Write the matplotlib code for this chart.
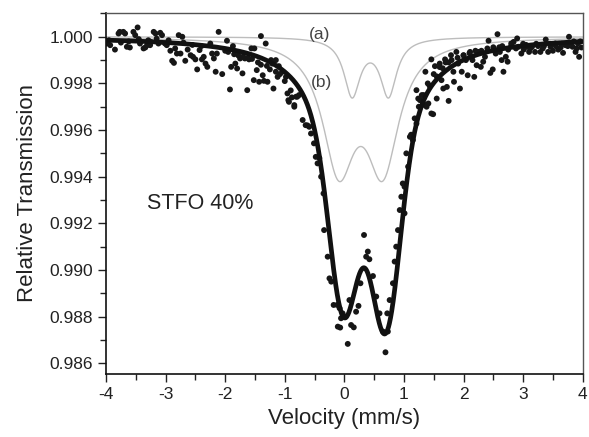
import matplotlib
matplotlib.use("Agg")
import matplotlib.pyplot as plt
import numpy as np
from matplotlib.ticker import MultipleLocator, FormatStrFormatter

plt.rcParams["font.family"] = ["Liberation Sans", "DejaVu Sans"]
plt.rcParams["axes.unicode_minus"] = False

# ---------------------------------------------------------------------------
# Data (velocity in mm/s, relative transmission)
# ---------------------------------------------------------------------------

vel_left = [-3.99, -3.93, -3.85, -3.79, -3.77, -3.71, -3.68, -3.65, -3.60, -3.54,
            -3.51, -3.47, -3.43, -3.37, -3.34, -3.31, -3.29, -3.26, -3.20, -3.17,
            -3.12, -3.09, -3.06, -3.01, -2.98, -2.92, -2.89, -2.86, -2.84, -2.81,
            -2.78, -2.75, -2.72, -2.67, -2.63, -2.58, -2.54, -2.50, -2.47, -2.43,
            -2.39, -2.36, -2.33, -2.30, -2.25, -2.22, -2.19, -2.16, -2.14, -2.11,
            -2.05, -1.97, -1.92, -1.90, -1.87, -1.83, -1.80, -1.75, -1.71, -1.67,
            -1.63, -1.60, -1.56, -1.52, -1.47, -1.43, -1.40, -1.37, -1.35, -1.32,
            -1.29, -1.23, -1.21, -1.19, -1.15, -1.12, -1.10,
            -3.95, -3.75, -3.62, -3.45, -3.25, -3.15, -2.95, -2.70, -2.55, -2.40,
            -1.95, -1.85, -1.70, -1.55, -1.45, -1.30, -1.25, -1.51,
            -2.00, -1.78, -1.62, -1.40, -1.15, -1.08]
trans_left = [0.99971, 0.99964, 0.99945, 1.00014, 1.00021, 1.00021, 1.00014, 0.99957, 0.99954, 1.00021,
              1.00007, 1.00040, 0.99971, 0.99950, 0.99954, 0.99964, 0.99985, 0.99964, 1.00021, 1.00014,
              0.99971, 1.00017, 1.00007, 0.99971, 0.99964, 0.99940, 0.99897, 0.99888, 0.99950, 0.99928,
              1.00007, 0.99928, 1.00000, 0.99897, 0.99945, 0.99921, 0.99914, 0.99903, 0.99860, 0.99943,
              0.99903, 0.99914, 0.99885, 0.99871, 0.99971, 0.99928, 0.99907, 0.99850, 0.99928, 1.00021,
              0.99840, 0.99983, 0.99774, 0.99871, 0.99960, 0.99885, 0.99864, 0.99907, 0.99843, 0.99907,
              0.99771, 0.99903, 0.99950, 0.99814, 0.99857, 0.99807, 1.00003, 0.99835, 0.99811, 0.99971,
              0.99807, 0.99900, 0.99885, 0.99778, 0.99900, 0.99828, 0.99874,
              0.99985, 0.99975, 0.99980, 0.99990, 0.99978, 0.99992, 0.99985, 0.99975, 0.99965, 0.99960,
              0.99935, 0.99925, 0.99915, 0.99905, 0.99890, 0.99875, 0.99860, 0.99950,
              0.99940, 0.99920, 0.99910, 0.99880, 0.99850, 0.99840]

vel_centre = [-1.04, -0.98, -0.955, -0.94, -0.93, -0.84, -0.84, -0.81, -0.79, -0.76,
              -0.70, -0.65, -0.59, -0.56, -0.51, -0.48, -0.45, -0.39, -0.35, -0.34,
              -0.28, -0.25, -0.22, -0.18, -0.12, -0.08, -0.11, -0.07, -0.056, -0.03,
              0.012, 0.057, 0.085, 0.113, 0.158, 0.197, 0.237, 0.27, 0.33, 0.366,
              0.394, 0.42, 0.48, 0.535, 0.59, 0.647, 0.69, 0.73, 0.72, 0.76,
              0.815, 0.844, 0.87, 0.90, 0.93, 0.956, 0.98, 1.01, 1.04, 1.07,
              1.10, 1.15, 1.21, 1.24, 1.27, 1.01, -1.00,
              -0.90, -0.88, -0.62, -0.42, 1.12, 1.18]
trans_centre = [0.99850, 0.99828, 0.99757, 0.99728, 0.99721, 0.99707, 0.99700, 0.99743, 0.99743, 0.99750,
                0.99643, 0.99621, 0.99614, 0.99585, 0.99543, 0.99485, 0.99457, 0.99400, 0.99328, 0.99171,
                0.99057, 0.98964, 0.98950, 0.98850, 0.98850, 0.98836, 0.98757, 0.98753, 0.98793, 0.98814,
                0.98800, 0.98683, 0.98871, 0.98764, 0.98754, 0.98821, 0.98846, 0.98943, 0.99150, 0.99057,
                0.99079, 0.99046, 0.98974, 0.98886, 0.98814, 0.98736, 0.98647, 0.98736, 0.98814, 0.98871,
                0.98943, 0.99036, 0.99100, 0.99171, 0.99257, 0.99314, 0.99371, 0.99357, 0.99500, 0.99443,
                0.99571, 0.99557, 0.99628, 0.99735, 0.99728, 0.99243, 0.99810,
                0.99770, 0.99740, 0.99620, 0.99480, 0.99580, 0.99650]

vel_right = [1.21, 1.32, 1.35, 1.36, 1.38, 1.41, 1.46, 1.46, 1.49, 1.52,
             1.55, 1.60, 1.63, 1.66, 1.69, 1.72, 1.75, 1.79, 1.83, 1.84,
             1.88, 1.91, 1.94, 1.97, 2.00, 2.04, 2.07, 2.11, 2.15, 2.18,
             2.22, 2.25, 2.29, 2.33, 2.36, 2.42, 2.45, 2.49, 2.54, 2.57,
             2.61, 2.64, 2.67, 2.71, 2.74, 2.80, 2.84, 2.90, 2.92, 2.97,
             3.01, 3.06, 3.10, 3.15, 3.20, 3.25, 3.29, 3.33, 3.38, 3.42,
             3.46, 3.50, 3.54, 3.59, 3.63, 3.67, 3.71, 3.77, 3.80, 3.83,
             3.88, 3.92, 3.94, 3.98,
             1.30, 1.40, 1.50, 1.60, 1.70, 1.80, 2.00, 2.20, 2.40, 2.60, 2.80, 3.00,
             1.25, 1.33, 1.43, 1.55, 1.65, 1.75, 1.90, 2.10, 2.30, 2.50, 2.65, 2.75,
             2.88, 3.05, 3.12, 3.22, 3.35, 3.45, 3.55, 3.65, 3.75, 3.85, 3.90, 3.96]
trans_right = [0.99771, 0.99714, 0.99707, 0.99850, 0.99700, 0.99714, 0.99903, 0.99671, 0.99668, 0.99874,
               0.99735, 0.99885, 0.99814, 0.99778, 0.99903, 0.99785, 0.99725, 0.99921, 0.99850, 0.99807,
               0.99935, 0.99885, 0.99778, 0.99850, 0.99921, 0.99900, 0.99835, 0.99935, 0.99900, 0.99828,
               0.99878, 0.99935, 0.99871, 0.99893, 0.99914, 0.99983, 0.99845, 0.99860, 0.99928, 1.00011,
               0.99935, 0.99900, 0.99850, 0.99914, 0.99893, 0.99971, 0.99978, 0.99993, 0.99957, 0.99928,
               0.99945, 0.99957, 0.99935, 0.99957, 0.99935, 0.99960, 0.99935, 0.99950, 0.99988, 0.99935,
               0.99957, 0.99940, 0.99971, 0.99945, 0.99954, 0.99931, 0.99964, 1.00000, 0.99971, 0.99957,
               0.99935, 0.99971, 0.99914, 0.99954,
               0.99750, 0.99800, 0.99840, 0.99870, 0.99890, 0.99900, 0.99920, 0.99940, 0.99950, 0.99955, 0.99960, 0.99970,
               0.99700, 0.99750, 0.99790, 0.99830, 0.99865, 0.99890, 0.99910, 0.99930, 0.99940, 0.99955, 0.99960, 0.99945,
               0.99950, 0.99965, 0.99950, 0.99970, 0.99960, 0.99970, 0.99960, 0.99970, 0.99960, 0.99980, 0.99950, 0.99980]

# Fitted envelope: two lines, each a Lorentzian wing plus a Gaussian core
fit_centres = [-0.02, 0.70]
fit_lor_depths = [0.0045, 0.0045]
fit_lor_hwhm = 0.55
fit_gau_depths = [0.0058, 0.0065]
fit_gau_sigma = 0.23

# Sub-spectra (a) and (b): Lorentzian doublets
sub_a_centres = [0.13, 0.74]
sub_a_depths = [0.00246, 0.00246]
sub_a_hwhm = 0.166

sub_b_centres = [-0.095, 0.645]
sub_b_depths = [0.00531, 0.00531]
sub_b_hwhm = 0.33


def lorentz_doublet(v, centres, depths, hwhm):
    out = np.zeros_like(v)
    for c, d in zip(centres, depths):
        out += d / (1.0 + ((v - c) / hwhm) ** 2)
    return out


def gauss_doublet(v, centres, depths, sigma):
    out = np.zeros_like(v)
    for c, d in zip(centres, depths):
        out += d * np.exp(-(v - c) ** 2 / (2 * sigma ** 2))
    return out


v_fine = np.linspace(-4, 4, 1601)
curve_a = 1 - lorentz_doublet(v_fine, sub_a_centres, sub_a_depths, sub_a_hwhm)
curve_b = 1 - lorentz_doublet(v_fine, sub_b_centres, sub_b_depths, sub_b_hwhm)
curve_fit = (1 - lorentz_doublet(v_fine, fit_centres, fit_lor_depths, fit_lor_hwhm)
             - gauss_doublet(v_fine, fit_centres, fit_gau_depths, fit_gau_sigma))

fig = plt.figure(figsize=(5.89, 4.37), dpi=100)
ax = fig.add_axes([0.18, 0.1442, 0.8093, 0.8261])

ax.plot(v_fine, curve_a, color="#bdbdbd", lw=1.0, zorder=1)
ax.plot(v_fine, curve_b, color="#bdbdbd", lw=1.0, zorder=1)

velocity = np.array(vel_left + vel_centre + vel_right)
transmission = np.array(trans_left + trans_centre + trans_right)
ax.scatter(velocity, transmission, s=18, color="#161616", edgecolors="none", zorder=2)

ax.plot(v_fine, curve_fit, color="#111111", lw=3.4, zorder=3, solid_capstyle="round")

ax.text(-0.42, 1.00010, "(a)", fontsize=12.5, color="#444444", ha="center", va="center")
ax.text(-0.39, 0.99804, "(b)", fontsize=12.5, color="#444444", ha="center", va="center")
ax.text(-2.42, 0.99287, "STFO 40%", fontsize=15.5, color="#222222", ha="center", va="center")

ax.set_xlim(-4, 4)
ax.set_ylim(0.98554, 1.00102)
ax.xaxis.set_major_locator(MultipleLocator(1))
ax.xaxis.set_minor_locator(MultipleLocator(0.5))
ax.yaxis.set_major_locator(MultipleLocator(0.002))
ax.yaxis.set_minor_locator(MultipleLocator(0.001))
ax.yaxis.set_major_formatter(FormatStrFormatter("%.3f"))
ax.tick_params(which="both", direction="out", top=False, right=False,
               labelsize=12.5, colors="#222222", width=1.0)
ax.tick_params(which="major", length=6)
ax.tick_params(which="minor", length=4)

for side in ["left", "bottom"]:
    ax.spines[side].set_linewidth(1.2)
    ax.spines[side].set_color("#111111")
for side in ["top", "right"]:
    ax.spines[side].set_linewidth(1.0)
    ax.spines[side].set_color("#555555")

ax.set_xlabel("Velocity (mm/s)", fontsize=16, color="#222222", labelpad=4)
ax.set_ylabel("Relative Transmission", fontsize=16, color="#222222", labelpad=8)

fig.savefig("out.png", dpi=100)
